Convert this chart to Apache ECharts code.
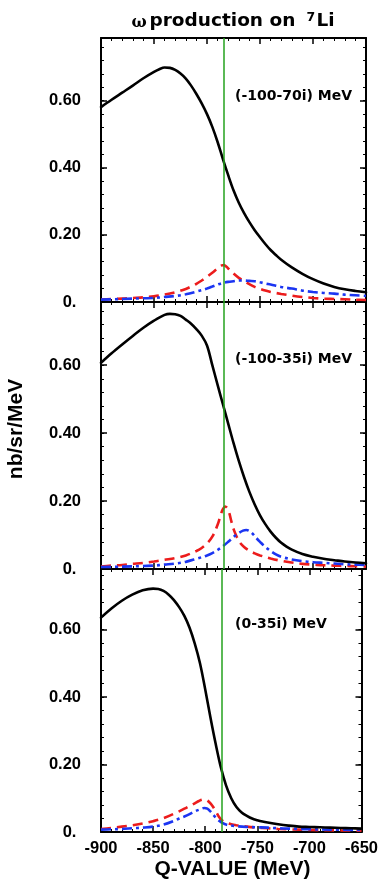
<!DOCTYPE html>
<html>
<head>
<meta charset="utf-8">
<script src="https://cdn.jsdelivr.net/npm/echarts@6/dist/echarts.min.js"></script>
<style>
html,body{margin:0;padding:0;background:#fff;}
#c{width:381px;height:882px;}
</style>
</head>
<body>
<div id="c"></div>
<script>
// ---- data (Q-value in MeV, cross section in nb/sr/MeV) ----
const panelLabels = ['(-100-70i) MeV', '(-100-35i) MeV', '(0-35i) MeV'];
const xTicks = [-900, -850, -800, -750, -700, -650];
const yTickLabels = ['0.', '0.20', '0.40', '0.60'];
const omegaThreshold = -784;

const total1 = [[-900,0.581],[-890,0.603],[-880,0.624],[-870,0.645],[-860,0.667],[-850,0.686],[-845,0.694],[-840,0.699],[-835,0.698],[-830,0.692],[-825,0.681],[-820,0.666],[-815,0.645],[-810,0.620],[-805,0.592],[-800,0.560],[-795,0.522],[-790,0.477],[-785,0.426],[-780,0.378],[-775,0.333],[-770,0.296],[-765,0.265],[-760,0.238],[-755,0.214],[-750,0.193],[-745,0.173],[-740,0.155],[-735,0.140],[-730,0.126],[-720,0.103],[-710,0.084],[-700,0.068],[-690,0.055],[-680,0.045],[-670,0.038],[-660,0.033],[-650,0.029]];
const red1 = [[-900,0.007],[-890,0.009],[-880,0.010],[-870,0.012],[-860,0.014],[-850,0.017],[-840,0.022],[-830,0.029],[-820,0.039],[-815,0.046],[-810,0.054],[-805,0.064],[-800,0.075],[-795,0.087],[-790,0.100],[-786,0.109],[-784,0.110],[-780,0.100],[-775,0.085],[-770,0.072],[-765,0.062],[-760,0.053],[-755,0.045],[-750,0.039],[-745,0.034],[-740,0.030],[-730,0.024],[-720,0.019],[-710,0.015],[-700,0.012],[-690,0.010],[-680,0.009],[-670,0.008],[-660,0.007],[-650,0.006]];
const blue1 = [[-900,0.007],[-880,0.009],[-860,0.011],[-850,0.012],[-840,0.015],[-830,0.018],[-820,0.023],[-810,0.031],[-800,0.040],[-795,0.046],[-790,0.052],[-785,0.057],[-780,0.060],[-775,0.062],[-770,0.064],[-765,0.064],[-760,0.063],[-755,0.062],[-750,0.059],[-745,0.055],[-740,0.052],[-730,0.045],[-720,0.040],[-710,0.034],[-700,0.030],[-690,0.027],[-680,0.025],[-670,0.022],[-660,0.020],[-650,0.018]];

const total2 = [[-900,0.607],[-890,0.635],[-880,0.661],[-870,0.686],[-860,0.710],[-850,0.731],[-840,0.748],[-835,0.751],[-830,0.750],[-825,0.745],[-820,0.734],[-815,0.722],[-810,0.706],[-805,0.687],[-800,0.658],[-795,0.600],[-790,0.542],[-785,0.485],[-780,0.428],[-775,0.371],[-770,0.318],[-765,0.270],[-760,0.227],[-755,0.190],[-750,0.158],[-745,0.132],[-740,0.110],[-735,0.092],[-730,0.077],[-725,0.066],[-720,0.057],[-710,0.044],[-700,0.036],[-690,0.030],[-680,0.026],[-670,0.022],[-660,0.019],[-650,0.017]];
const red2 = [[-900,0.007],[-890,0.010],[-880,0.012],[-870,0.015],[-860,0.018],[-850,0.022],[-840,0.027],[-830,0.032],[-820,0.040],[-810,0.053],[-805,0.062],[-800,0.075],[-795,0.095],[-790,0.130],[-787,0.160],[-785,0.176],[-783,0.184],[-781,0.180],[-779,0.165],[-777,0.140],[-775,0.118],[-772,0.095],[-769,0.078],[-765,0.065],[-760,0.054],[-755,0.046],[-750,0.040],[-740,0.031],[-730,0.024],[-720,0.019],[-710,0.015],[-700,0.013],[-690,0.011],[-680,0.010],[-670,0.009],[-660,0.008],[-650,0.007]];
const blue2 = [[-900,0.006],[-880,0.007],[-860,0.009],[-850,0.010],[-840,0.013],[-830,0.016],[-820,0.021],[-810,0.030],[-800,0.040],[-795,0.047],[-790,0.056],[-785,0.067],[-780,0.080],[-775,0.094],[-770,0.106],[-766,0.113],[-763,0.115],[-760,0.112],[-757,0.104],[-754,0.093],[-750,0.080],[-745,0.065],[-740,0.053],[-735,0.043],[-730,0.036],[-720,0.028],[-710,0.023],[-700,0.020],[-690,0.018],[-680,0.016],[-670,0.014],[-660,0.013],[-650,0.012]];

const total3 = [[-900,0.635],[-890,0.662],[-880,0.685],[-870,0.703],[-860,0.716],[-850,0.721],[-845,0.720],[-840,0.714],[-835,0.703],[-830,0.687],[-825,0.666],[-820,0.640],[-815,0.605],[-810,0.558],[-805,0.500],[-800,0.423],[-795,0.340],[-790,0.262],[-785,0.192],[-780,0.138],[-775,0.100],[-770,0.074],[-765,0.058],[-760,0.048],[-755,0.040],[-750,0.035],[-745,0.031],[-740,0.028],[-730,0.023],[-720,0.019],[-710,0.016],[-700,0.015],[-690,0.014],[-680,0.013],[-670,0.012],[-660,0.011],[-650,0.010]];
const red3 = [[-900,0.009],[-890,0.012],[-880,0.016],[-870,0.020],[-860,0.025],[-850,0.032],[-840,0.041],[-830,0.054],[-820,0.069],[-815,0.077],[-810,0.085],[-806,0.092],[-802,0.096],[-799,0.095],[-796,0.088],[-793,0.077],[-790,0.062],[-787,0.046],[-784,0.035],[-780,0.028],[-775,0.023],[-770,0.020],[-760,0.016],[-750,0.013],[-740,0.011],[-730,0.009],[-720,0.008],[-700,0.006],[-680,0.005],[-650,0.004]];
const blue3 = [[-900,0.007],[-890,0.008],[-880,0.009],[-870,0.011],[-860,0.013],[-850,0.016],[-840,0.022],[-830,0.033],[-825,0.040],[-820,0.046],[-815,0.053],[-810,0.061],[-805,0.067],[-801,0.071],[-798,0.069],[-795,0.061],[-792,0.050],[-789,0.040],[-786,0.032],[-783,0.026],[-780,0.022],[-775,0.019],[-770,0.017],[-760,0.015],[-750,0.014],[-740,0.013],[-730,0.011],[-720,0.010],[-710,0.009],[-700,0.008],[-680,0.007],[-650,0.006]];

const panels = [
  {total: total1, red: red1, blue: blue1},
  {total: total2, red: red2, blue: blue2},
  {total: total3, red: red3, blue: blue3}
];

// ---- layout ----
const grids = [
  {top: 38, height: 264, ymax: 0.787},
  {top: 302, height: 267, ymax: 0.786},
  {top: 569, height: 263, ymax: 0.779}
];
const LEFT = 101, RIGHT = 15;
const labelFont = 'Liberation Sans';
const BLACK = '#000000', RED = '#ec1c1c', BLUE = '#1b35f2', GREEN = '#24a21e';

const chart = echarts.init(document.getElementById('c'), null, {renderer: 'canvas'});

const gridOpt = [], xAxes = [], yAxes = [], series = [];
grids.forEach((g, p) => {
  gridOpt.push({left: LEFT, right: RIGHT, top: g.top, height: g.height, containLabel: false});
  const isLast = p === grids.length - 1;
  ['bottom', 'top'].forEach((pos) => {
    xAxes.push({
      type: 'value', gridIndex: p, position: pos, min: xTicks[0], max: xTicks[xTicks.length - 1], interval: 50,
      axisLine: {show: true, onZero: false, lineStyle: {color: BLACK, width: 2}},
      axisTick: {show: true, inside: true, length: 6, lineStyle: {color: BLACK, width: 1.5}},
      minorTick: {show: true, splitNumber: 5, length: 3, lineStyle: {color: BLACK, width: 1}},
      splitLine: {show: false},
      axisLabel: {
        show: isLast && pos === 'bottom', margin: 8, color: BLACK,
        fontFamily: labelFont, fontWeight: 'bold', fontSize: 16.5,
        formatter: (v) => String(v)
      }
    });
  });
  ['left', 'right'].forEach((pos) => {
    yAxes.push({
      type: 'value', gridIndex: p, position: pos, min: 0, max: g.ymax, interval: 0.2,
      axisLine: {show: true, onZero: false, lineStyle: {color: BLACK, width: 2}},
      axisTick: {show: true, inside: true, length: 6, lineStyle: {color: BLACK, width: 1.5}},
      splitLine: {show: false},
      axisLabel: {
        show: pos === 'left', margin: 20, color: BLACK, showMaxLabel: false,
        fontFamily: labelFont, fontWeight: 'bold', fontSize: 16.5,
        formatter: (v) => {
          const i = Math.round(v / 0.2);
          if (Math.abs(v - i * 0.2) > 1e-6) return '';
          return i === 0 ? yTickLabels[0] + ' ' : (yTickLabels[i] || '');
        }
      }
    });
    yAxes.push({
      type: 'value', gridIndex: p, position: pos, min: 0, max: g.ymax, interval: 0.04,
      axisLine: {show: false},
      axisTick: {show: true, inside: true, length: 3, lineStyle: {color: BLACK, width: 1}},
      splitLine: {show: false},
      axisLabel: {show: false}
    });
  });
  const d = panels[p];
  const common = {type: 'line', xAxisIndex: 2 * p, yAxisIndex: 4 * p, showSymbol: false, smooth: 0.35};
  series.push(Object.assign({}, common, {
    data: d.total, lineStyle: {color: BLACK, width: 2.6, join: 'round', cap: 'round'}, z: 3,
    markLine: {
      silent: true, symbol: 'none', label: {show: false},
      lineStyle: {color: GREEN, width: 1.5, type: 'solid'},
      data: [{xAxis: omegaThreshold}]
    }
  }));
  series.push(Object.assign({}, common, {
    data: d.red, lineStyle: {color: RED, width: 2.6, type: [10, 6]}, z: 2
  }));
  series.push(Object.assign({}, common, {
    data: d.blue, lineStyle: {color: BLUE, width: 2.6, type: [10, 4, 3, 4]}, z: 2
  }));
});

const panelLabelY = [96, 359.5, 624];
const graphics = [];
panelLabels.forEach((t, i) => {
  graphics.push({type: 'text', x: 235, y: panelLabelY[i], style: {
    text: t, fill: BLACK, font: 'bold 14px "DejaVu Sans"', textAlign: 'left', textVerticalAlign: 'middle'}});
});
// title pieces
graphics.push({type: 'text', x: 131.5, y: 23, style: {text: 'ω', fill: BLACK, font: 'bold 16px "DejaVu Serif"', textAlign: 'left', textVerticalAlign: 'middle'}});
graphics.push({type: 'text', x: 149.5, y: 21.5, style: {text: 'production on', fill: BLACK, font: 'bold 18.5px "DejaVu Sans"', textAlign: 'left', textVerticalAlign: 'middle'}});
graphics.push({type: 'text', x: 306.5, y: 17.5, style: {text: '7', fill: BLACK, font: 'bold 12.5px "DejaVu Sans"', textAlign: 'left', textVerticalAlign: 'middle'}});
graphics.push({type: 'text', x: 316.5, y: 21.5, style: {text: 'Li', fill: BLACK, font: 'bold 18.5px "DejaVu Sans"', textAlign: 'left', textVerticalAlign: 'middle'}});
// axis titles
graphics.push({type: 'text', x: 232.5, y: 869.5, style: {text: 'Q-VALUE (MeV)', fill: BLACK, font: 'bold 21px "Liberation Sans"', textAlign: 'center', textVerticalAlign: 'middle'}});
graphics.push({type: 'text', x: 16, y: 429, rotation: Math.PI / 2, style: {text: 'nb/sr/MeV', fill: BLACK, font: 'bold 21px "Liberation Sans"', textAlign: 'center', textVerticalAlign: 'middle'}});

chart.setOption({
  animation: false,
  backgroundColor: '#ffffff',
  grid: gridOpt,
  xAxis: xAxes,
  yAxis: yAxes,
  series: series,
  graphic: graphics
});
</script>
</body>
</html>
